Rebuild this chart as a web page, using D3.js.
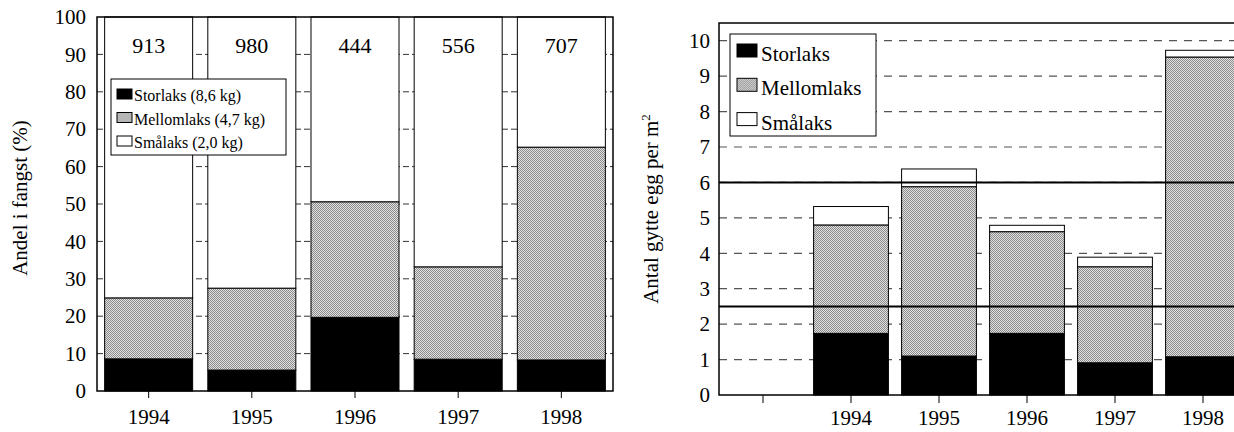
<!DOCTYPE html>
<html>
<head>
<meta charset="utf-8">
<script src="https://cdn.jsdelivr.net/npm/d3@7"></script>
<style>
  body { margin: 0; background: #fff; }
  svg text { font-family: "Liberation Serif", "Times New Roman", serif; fill: #000; }
</style>
</head>
<body>
<div id="box"></div>
<script>
// left chart: share of catch (%)
const years = ['1994', '1995', '1996', '1997', '1998'];
const catchCounts = [913, 980, 444, 556, 707];
const shareStor = [8.6, 5.6, 19.7, 8.5, 8.3];
const shareMellom = [16.3, 21.9, 30.9, 24.7, 56.9];
const shareSmaa = [75.1, 72.5, 49.4, 66.8, 34.8];
const shareTicks = [0, 10, 20, 30, 40, 50, 60, 70, 80, 90, 100];
const shareLegend = ['Storlaks (8,6 kg)', 'Mellomlaks (4,7 kg)', 'Smålaks (2,0 kg)'];

// right chart: spawned eggs per m2
const eggYears = ['', '1994', '1995', '1996', '1997', '1998'];
const eggStor = [0, 1.74, 1.10, 1.74, 0.91, 1.08];
const eggMellom = [0, 3.06, 4.78, 2.87, 2.71, 8.46];
const eggSmaa = [0, 0.52, 0.50, 0.18, 0.27, 0.19];
const eggTicks = [0, 1, 2, 3, 4, 5, 6, 7, 8, 9, 10];
const eggRefLines = [2.5, 6.0];
const eggLegend = ['Storlaks', 'Mellomlaks', 'Smålaks'];

const keys = ['stor', 'mellom', 'smaa'];
const width = 1234, height = 432;
const serif = '"Liberation Serif", "Times New Roman", serif';

const svg = d3.select('#box').append('svg')
  .attr('width', width)
  .attr('height', height)
  .attr('font-family', serif);

// stipple pattern for Mellomlaks
const defs = svg.append('defs');
const pat = defs.append('pattern')
  .attr('id', 'stipple')
  .attr('width', 2).attr('height', 2)
  .attr('patternUnits', 'userSpaceOnUse');
pat.append('rect').attr('width', 2).attr('height', 2).attr('fill', '#e2e2e2');
pat.append('rect').attr('x', 0).attr('y', 0).attr('width', 1).attr('height', 1).attr('fill', '#8a8a8a');
pat.append('rect').attr('x', 1).attr('y', 1).attr('width', 1).attr('height', 1).attr('fill', '#8a8a8a');

const fills = { stor: '#000', mellom: 'url(#stipple)', smaa: '#fff' };

// ---------- left chart ----------
const L = { left: 97, right: 613, top: 17, bottom: 391 };

const xL = d3.scaleBand().domain(years)
  .range([L.left, L.right])
  .paddingInner(0.147).paddingOuter(0.074);
const yL = d3.scaleLinear().domain([0, 100]).range([L.bottom, L.top]);

const leftRows = years.map((y, i) => ({ year: y, stor: shareStor[i], mellom: shareMellom[i], smaa: shareSmaa[i] }));
const leftStack = d3.stack().keys(keys)(leftRows);

const gL = svg.append('g');

// dashed grid (mostly hidden behind bars)
gL.selectAll('.gridL').data(shareTicks.slice(1, -1))
  .join('line')
  .attr('class', 'gridL')
  .attr('x1', L.left).attr('x2', L.right)
  .attr('y1', d => yL(d)).attr('y2', d => yL(d))
  .style('stroke', '#333')
  .style('stroke-width', 1)
  .style('stroke-dasharray', '6,3');

gL.selectAll('.layerL').data(leftStack)
  .join('g')
  .attr('class', 'layerL')
  .selectAll('rect').data(d => d.map(v => ({ v, key: d.key })))
  .join('rect')
  .attr('x', d => xL(d.v.data.year))
  .attr('width', xL.bandwidth())
  .attr('y', d => yL(d.v[1]))
  .attr('height', d => yL(d.v[0]) - yL(d.v[1]))
  .style('fill', d => fills[d.key])
  .style('stroke', '#000')
  .style('stroke-width', 1);

// frame
gL.append('rect')
  .attr('x', L.left).attr('y', L.top)
  .attr('width', L.right - L.left).attr('height', L.bottom - L.top)
  .style('fill', 'none').style('stroke', '#000').style('stroke-width', 1.5);

// y axis
const yAxisL = d3.axisLeft(yL).tickValues(shareTicks).tickSize(0).tickPadding(11);
gL.append('g')
  .attr('transform', `translate(${L.left},0)`)
  .call(yAxisL)
  .attr('font-family', serif)
  .call(g => g.select('.domain').remove())
  .selectAll('text')
  .style('font-family', serif)
  .style('font-size', '21px');

// x axis
const xAxisL = d3.axisBottom(xL).tickSize(7).tickPadding(11);
gL.append('g')
  .attr('transform', `translate(0,${L.bottom})`)
  .call(xAxisL)
  .attr('font-family', serif)
  .call(g => g.select('.domain').remove())
  .call(g => g.selectAll('line').style('stroke', '#000'))
  .selectAll('text')
  .style('font-family', serif)
  .style('font-size', '21px');

// catch counts
gL.selectAll('.countL').data(years)
  .join('text')
  .attr('class', 'countL')
  .attr('x', d => xL(d) + xL.bandwidth() / 2)
  .attr('y', 53)
  .attr('text-anchor', 'middle')
  .style('font-size', '22px')
  .text((d, i) => catchCounts[i]);

// y title
gL.append('text')
  .attr('transform', `translate(27,198) rotate(-90)`)
  .attr('text-anchor', 'middle')
  .style('font-size', '21px')
  .text('Andel i fangst (%)');

// legend
const legL = gL.append('g').attr('transform', 'translate(111,79)');
legL.append('rect')
  .attr('width', 175).attr('height', 76)
  .style('fill', '#fff').style('stroke', '#000').style('stroke-width', 1);
const legLItems = legL.selectAll('.li').data(keys)
  .join('g')
  .attr('class', 'li')
  .attr('transform', (d, i) => `translate(6,${10 + i * 23.5})`);
legLItems.append('rect')
  .attr('width', 15).attr('height', 10)
  .style('fill', d => fills[d]).style('stroke', '#000').style('stroke-width', 1);
legLItems.append('text')
  .attr('x', 17).attr('y', 12)
  .style('font-size', '16px')
  .text((d, i) => shareLegend[i]);

// ---------- right chart ----------
const R = { left: 719, right: 1247, top: 23, bottom: 395 };

const xR = d3.scaleBand().domain(eggYears)
  .range([R.left, R.right])
  .paddingInner(0.15).paddingOuter(0.075);
const yR = d3.scaleLinear().domain([0, 10.5]).range([R.bottom, R.top]);

const rightRows = eggYears.map((y, i) => ({ year: y, stor: eggStor[i], mellom: eggMellom[i], smaa: eggSmaa[i] }));
const rightStack = d3.stack().keys(keys)(rightRows.filter(d => d.year !== ''));

const gR = svg.append('g');

gR.selectAll('.gridR').data(eggTicks.slice(1))
  .join('line')
  .attr('class', 'gridR')
  .attr('x1', R.left).attr('x2', R.right)
  .attr('y1', d => yR(d)).attr('y2', d => yR(d))
  .style('stroke', '#555')
  .style('stroke-width', 1.2)
  .style('stroke-dasharray', '8,7');

gR.selectAll('.layerR').data(rightStack)
  .join('g')
  .attr('class', 'layerR')
  .selectAll('rect').data(d => d.map(v => ({ v, key: d.key })))
  .join('rect')
  .attr('x', d => xR(d.v.data.year))
  .attr('width', xR.bandwidth())
  .attr('y', d => yR(d.v[1]))
  .attr('height', d => yR(d.v[0]) - yR(d.v[1]))
  .style('fill', d => fills[d.key])
  .style('stroke', '#000')
  .style('stroke-width', 1);

// reference lines
gR.selectAll('.refR').data(eggRefLines)
  .join('line')
  .attr('class', 'refR')
  .attr('x1', R.left).attr('x2', R.right)
  .attr('y1', d => yR(d)).attr('y2', d => yR(d))
  .style('stroke', '#000')
  .style('stroke-width', 2);

// frame: left, top, bottom
gR.append('path')
  .attr('d', `M${R.right},${R.top} L${R.left},${R.top} L${R.left},${R.bottom} L${R.right},${R.bottom}`)
  .style('fill', 'none').style('stroke', '#000').style('stroke-width', 1.5);

const yAxisR = d3.axisLeft(yR).tickValues(eggTicks).tickSize(0).tickPadding(9);
gR.append('g')
  .attr('transform', `translate(${R.left},0)`)
  .call(yAxisR)
  .attr('font-family', serif)
  .call(g => g.select('.domain').remove())
  .selectAll('text')
  .style('font-family', serif)
  .style('font-size', '21px');

const xAxisR = d3.axisBottom(xR).tickSize(8).tickPadding(7);
gR.append('g')
  .attr('transform', `translate(0,${R.bottom})`)
  .call(xAxisR)
  .attr('font-family', serif)
  .call(g => g.select('.domain').remove())
  .call(g => g.selectAll('line').style('stroke', '#000'))
  .selectAll('text')
  .style('font-family', serif)
  .style('font-size', '21px');

// y title
const titleR = gR.append('text')
  .attr('transform', `translate(658,209) rotate(-90)`)
  .attr('text-anchor', 'middle')
  .style('font-size', '21px');
titleR.append('tspan').text('Antal gytte egg per m');
titleR.append('tspan').attr('dy', -8).style('font-size', '13px').text('2');

// legend
const legR = gR.append('g').attr('transform', 'translate(730,34)');
legR.append('rect')
  .attr('width', 146).attr('height', 102)
  .style('fill', '#fff').style('stroke', '#000').style('stroke-width', 1);
const legRItems = legR.selectAll('.ri').data(keys)
  .join('g')
  .attr('class', 'ri')
  .attr('transform', (d, i) => `translate(7,${10 + i * 34.3})`);
legRItems.append('rect')
  .attr('width', 20).attr('height', 13)
  .style('fill', d => fills[d]).style('stroke', '#000').style('stroke-width', 1);
legRItems.append('text')
  .attr('x', 24).attr('y', 17)
  .style('font-size', '21px')
  .text((d, i) => eggLegend[i]);
</script>
</body>
</html>
